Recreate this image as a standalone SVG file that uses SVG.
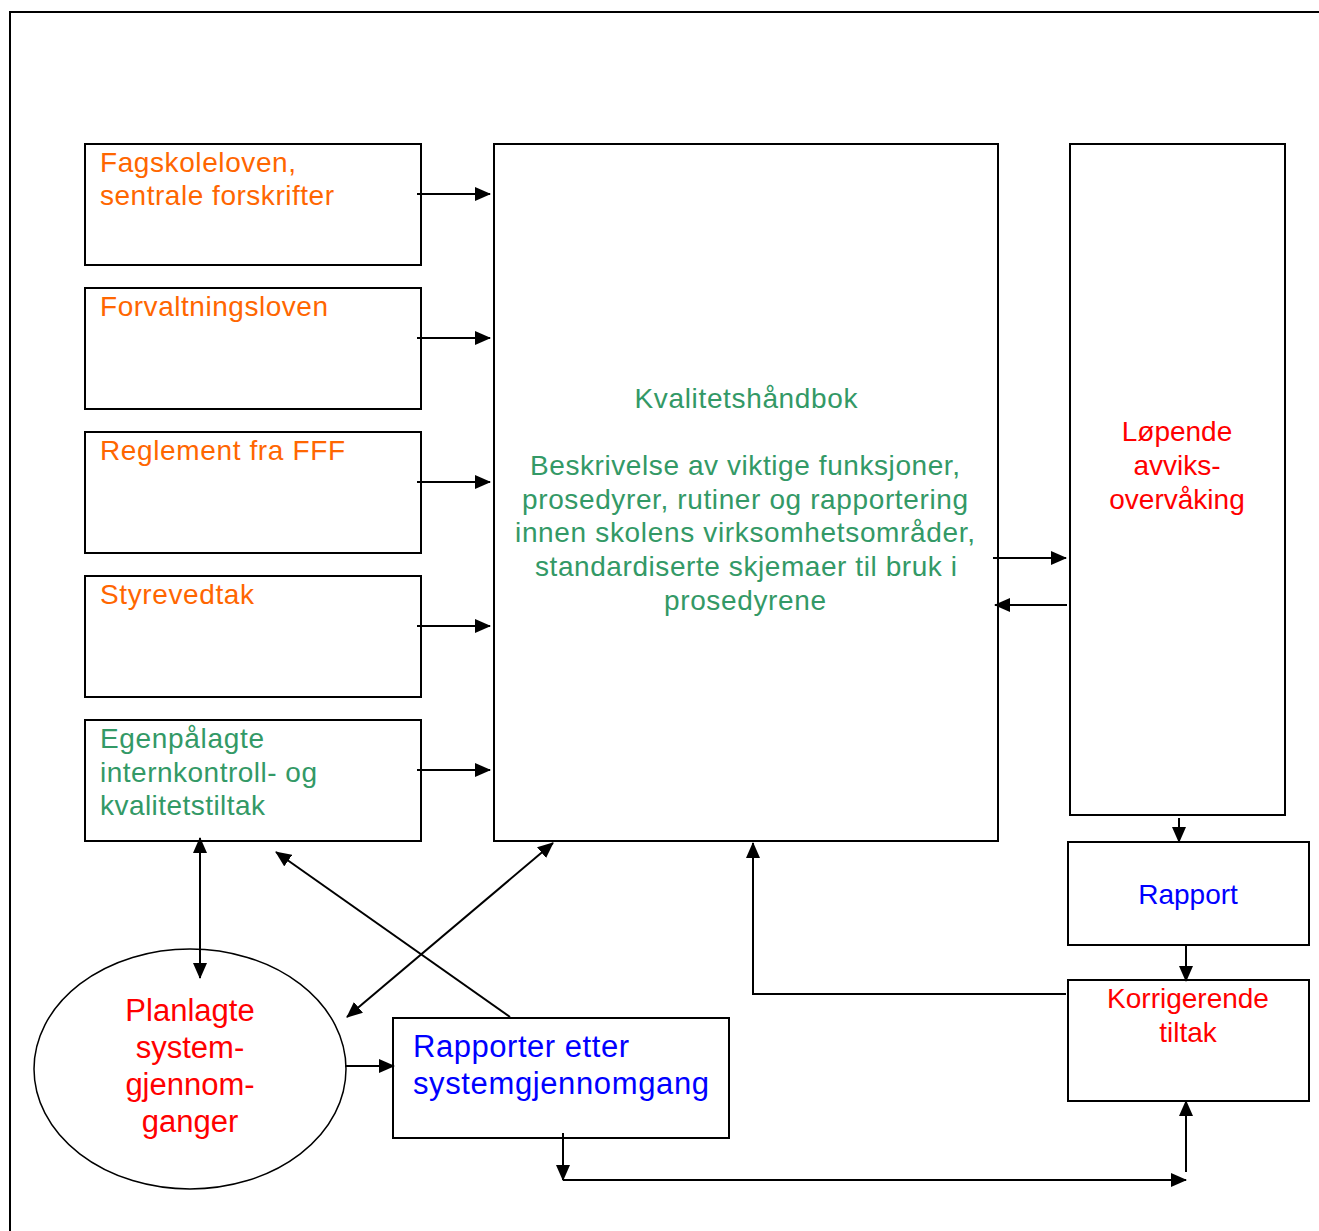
<svg xmlns="http://www.w3.org/2000/svg" width="1319" height="1231" viewBox="0 0 1319 1231">
<style>
text{font-family:"Liberation Sans",Arial,sans-serif;font-size:28px}
.box{fill:#fff;stroke:#000;stroke-width:2}
.or{fill:#FF6600}
.gr{fill:#339966}
.rd{fill:#FF0000}
.bl{fill:#0000FF}
.big{font-size:31px}
.c{text-anchor:middle}
.ln{fill:none;stroke:#000;stroke-width:2}
</style>
<defs>
<marker id="ah" markerUnits="userSpaceOnUse" markerWidth="16" markerHeight="14" refX="15" refY="7" orient="auto-start-reverse">
<path d="M0,0 L16,7 L0,14 Z" fill="#000"/>
</marker>
</defs>
<path d="M10,1231 V12 H1319" fill="none" stroke="#000" stroke-width="2"/>
<g id="n-fagskoleloven"><rect class="box" x="85" y="144" width="336" height="121"/>
<text class="or" x="100" y="172" textLength="196">Fagskoleloven,</text>
<text class="or" x="100" y="205" textLength="234">sentrale forskrifter</text></g>
<g id="n-forvaltningsloven"><rect class="box" x="85" y="288" width="336" height="121"/>
<text class="or" x="100" y="316" textLength="228">Forvaltningsloven</text></g>
<g id="n-reglement"><rect class="box" x="85" y="432" width="336" height="121"/>
<text class="or" x="100" y="460" textLength="245">Reglement fra FFF</text></g>
<g id="n-styrevedtak"><rect class="box" x="85" y="576" width="336" height="121"/>
<text class="or" x="100" y="604" textLength="154">Styrevedtak</text></g>
<g id="n-egenpalagte"><rect class="box" x="85" y="720" width="336" height="121"/>
<text class="gr" x="100" y="748" textLength="164">Egenpålagte</text>
<text class="gr" x="100" y="782" textLength="217">internkontroll- og</text>
<text class="gr" x="100" y="815" textLength="165">kvalitetstiltak</text></g>
<g id="n-kvalitetshandbok"><rect class="box" x="494" y="144" width="504" height="697"/>
<text class="gr c" x="746" y="408" textLength="223">Kvalitetshåndbok</text>
<text class="gr c" x="745" y="475" textLength="430">Beskrivelse av viktige funksjoner,</text>
<text class="gr c" x="745" y="509" textLength="446">prosedyrer, rutiner og rapportering</text>
<text class="gr c" x="745" y="542" textLength="460">innen skolens virksomhetsområder,</text>
<text class="gr c" x="746" y="576" textLength="422">standardiserte skjemaer til bruk i</text>
<text class="gr c" x="745" y="610" textLength="162">prosedyrene</text></g>
<g id="n-avvik"><rect class="box" x="1070" y="144" width="215" height="671"/>
<text class="rd c" x="1177" y="441">Løpende</text>
<text class="rd c" x="1177" y="475">avviks-</text>
<text class="rd c" x="1177" y="509">overvåking</text></g>
<g id="n-rapport"><rect class="box" x="1068" y="842" width="241" height="103"/>
<text class="bl c" x="1188" y="904">Rapport</text></g>
<g id="n-korrigerende"><rect class="box" x="1068" y="980" width="241" height="121"/>
<text class="rd c" x="1188" y="1008">Korrigerende</text>
<text class="rd c" x="1188" y="1042">tiltak</text></g>
<g id="n-planlagte"><ellipse cx="190" cy="1069" rx="156" ry="120" fill="#fff" stroke="#000" stroke-width="1.5"/>
<text class="rd c big" x="190" y="1021">Planlagte</text>
<text class="rd c big" x="190" y="1058">system-</text>
<text class="rd c big" x="190" y="1095">gjennom-</text>
<text class="rd c big" x="190" y="1132">ganger</text></g>
<g id="n-rapporter"><rect class="box" x="393" y="1018" width="336" height="120"/>
<text class="bl big" x="413" y="1057" textLength="216">Rapporter etter</text>
<text class="bl big" x="413" y="1094" textLength="296">systemgjennomgang</text></g>
<g id="connectors">
<line class="ln" x1="417" y1="194" x2="490" y2="194" marker-end="url(#ah)"/>
<line class="ln" x1="417" y1="338" x2="490" y2="338" marker-end="url(#ah)"/>
<line class="ln" x1="417" y1="482" x2="490" y2="482" marker-end="url(#ah)"/>
<line class="ln" x1="417" y1="626" x2="490" y2="626" marker-end="url(#ah)"/>
<line class="ln" x1="417" y1="770" x2="490" y2="770" marker-end="url(#ah)"/>
<line class="ln" x1="993" y1="558" x2="1066" y2="558" marker-end="url(#ah)"/>
<line class="ln" x1="1067" y1="605" x2="995" y2="605" marker-end="url(#ah)"/>
<line class="ln" x1="1179" y1="818" x2="1179" y2="842" marker-end="url(#ah)"/>
<line class="ln" x1="1186" y1="945" x2="1186" y2="981" marker-end="url(#ah)"/>
<line class="ln" x1="200" y1="838" x2="200" y2="978" marker-start="url(#ah)" marker-end="url(#ah)"/>
<line class="ln" x1="510" y1="1017" x2="276" y2="852" marker-end="url(#ah)"/>
<line class="ln" x1="553" y1="843" x2="347" y2="1017" marker-start="url(#ah)" marker-end="url(#ah)"/>
<polyline class="ln" points="1066,994 753,994 753,843" marker-end="url(#ah)"/>
<line class="ln" x1="345" y1="1066" x2="394" y2="1066" marker-end="url(#ah)"/>
<line class="ln" x1="563" y1="1133" x2="563" y2="1180" marker-end="url(#ah)"/>
<line class="ln" x1="563" y1="1180" x2="1186" y2="1180" marker-end="url(#ah)"/>
<line class="ln" x1="1186" y1="1172" x2="1186" y2="1101" marker-end="url(#ah)"/>
</g>
</svg>
